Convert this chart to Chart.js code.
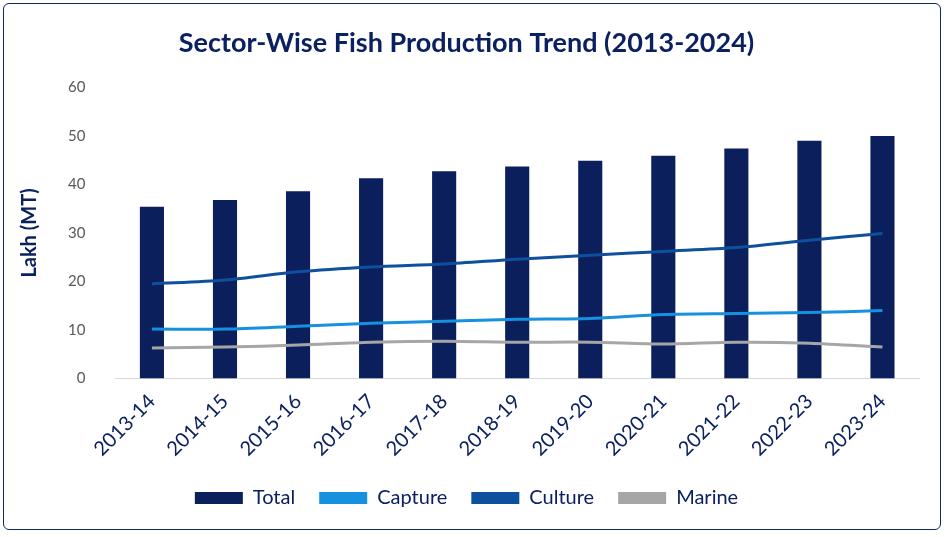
<!DOCTYPE html>
<html><head><meta charset="utf-8">
<script src="https://cdn.jsdelivr.net/npm/chart.js@4"></script>
<style>
html,body{margin:0;padding:0;background:#fff}
#wrap{position:absolute;left:3px;top:3px;width:938px;height:527px;border:1.5px solid #0b2a66;border-radius:6px;box-sizing:border-box}
canvas{position:absolute;left:0;top:0}
</style></head><body>
<div id="wrap"><canvas id="c" width="935" height="524"></canvas></div>
<script>
const categories=["2013-14","2014-15","2015-16","2016-17","2017-18","2018-19","2019-20","2020-21","2021-22","2022-23","2023-24"];
const total=[35.4,36.8,38.6,41.3,42.7,43.7,44.9,45.9,47.4,49.0,50.0];
const capture=[10.2,10.2,10.8,11.4,11.8,12.2,12.4,13.2,13.4,13.6,14.0];
const culture=[19.5,20.3,22.0,23.0,23.6,24.6,25.4,26.2,27.0,28.5,29.9];
const marine=[6.3,6.5,6.9,7.5,7.7,7.5,7.5,7.1,7.5,7.3,6.5];
const F="Lato, 'Open Sans', sans-serif";
new Chart(document.getElementById('c'),{
 data:{labels:categories,datasets:[
  {type:'bar',label:'Total',data:total,backgroundColor:'#0a1f5c',barPercentage:0.33,categoryPercentage:1,order:4},
  {type:'line',label:'Capture',data:capture,borderColor:'#1591e0',backgroundColor:'#1591e0',borderWidth:3,pointRadius:0,tension:0.3,order:1},
  {type:'line',label:'Culture',data:culture,borderColor:'#0e4f9e',backgroundColor:'#0e4f9e',borderWidth:3,pointRadius:0,tension:0.3,order:2},
  {type:'line',label:'Marine',data:marine,borderColor:'#a6a6a6',backgroundColor:'#a6a6a6',borderWidth:3,pointRadius:0,tension:0.3,order:3}
 ]},
 options:{responsive:false,animation:false,
  layout:{padding:{left:10,right:20,top:5,bottom:10}},
  plugins:{
   title:{display:true,text:'Sector-Wise Fish Production Trend (2013-2024)',color:'#0b2060',font:{family:F,size:27,weight:'bold'},padding:{top:18,bottom:28}},
   legend:{position:'bottom',labels:{color:'#0b2060',font:{family:F,size:20},boxWidth:48,boxHeight:12,padding:24,
     generateLabels(ch){return ch.data.datasets.map((d,i)=>({text:d.label,fillStyle:d.backgroundColor,strokeStyle:d.backgroundColor,lineWidth:0,datasetIndex:i,fontColor:'#0b2060'}));}}}
  },
  scales:{
   x:{grid:{display:false},border:{color:'#d9d9d9'},ticks:{color:'#0b2060',font:{family:F,size:20},maxRotation:45,minRotation:45}},
   y:{min:0,max:60,ticks:{stepSize:10,color:'#595959',font:{family:F,size:15},padding:22},grid:{display:false},border:{display:false},
      title:{display:true,text:'Lakh (MT)',color:'#0b2060',font:{family:F,size:20,weight:'bold'}}}
  }}
});
</script></body></html>
